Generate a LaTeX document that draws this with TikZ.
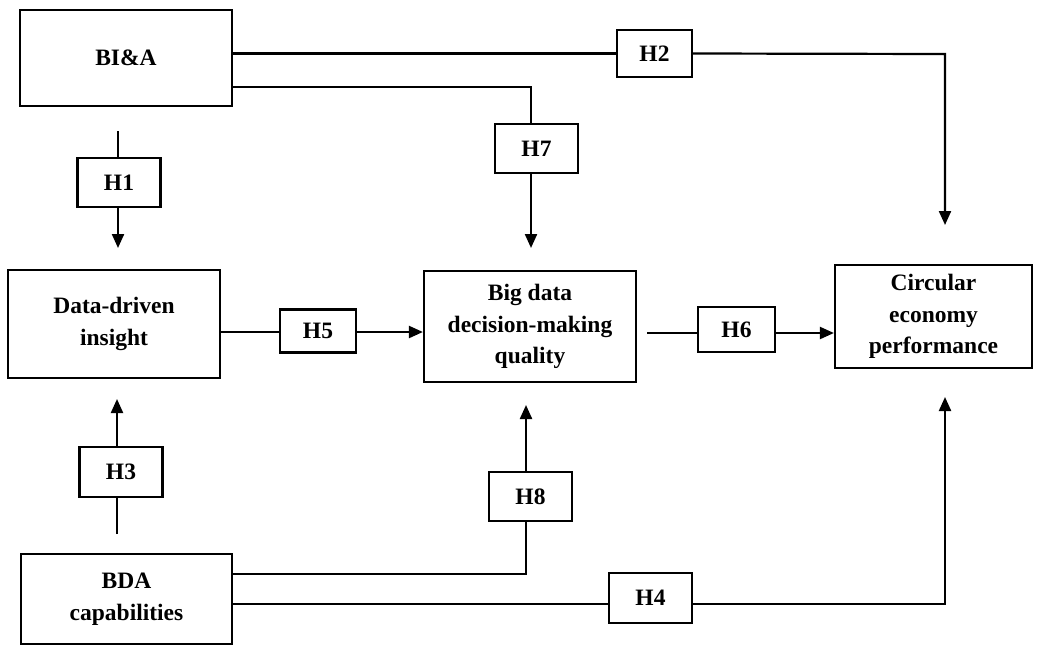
\documentclass[tikz,border=0pt]{standalone}
\usepackage{fontspec}
\setmainfont{Liberation Serif}
\usetikzlibrary{arrows.meta,calc}
\begin{document}
\begin{tikzpicture}[x=1pt,y=-1pt,
  box/.style={draw,line width=2.2pt,rectangle,inner sep=0pt,align=center,
    font=\fontsize{23.5}{31.5}\selectfont\bfseries},
  hbox/.style={draw,line width=2.2pt,rectangle,inner sep=0pt,align=center,
    font=\fontsize{23.5}{26}\selectfont\bfseries},
  conn/.style={line width=2.2pt},
  arr/.style={line width=2.2pt,-{Triangle[length=14pt,width=12pt]}}]
\useasboundingbox (0,0) rectangle (1048,646);
\node[box,minimum width=212pt,minimum height=96pt] (bia) at (126,58) {BI\&A};
\node[box,minimum width=212pt,minimum height=108pt] (ddi) at (114,324) {Data-driven\\insight};
\node[box,minimum width=211pt,minimum height=90pt] (bda) at (126.5,599) {BDA\\capabilities};
\node[box,minimum width=212pt,minimum height=111pt] (bdq) at (530,326.5) {Big data\\decision-making\\quality};
\node[box,minimum width=197pt,minimum height=103pt] (cep) at (933.5,316.5) {Circular\\economy\\performance};
\node[hbox,minimum width=83pt,minimum height=49pt] (h1) at (119,182.5) {H1};
\node[hbox,minimum width=75pt,minimum height=47pt] (h2) at (654.5,53.5) {H2};
\node[hbox,minimum width=83pt,minimum height=50pt] (h3) at (121,472) {H3};
\node[hbox,minimum width=83pt,minimum height=50pt] (h4) at (650.5,598) {H4};
\node[hbox,minimum width=76pt,minimum height=43pt] (h5) at (318,331) {H5};
\node[hbox,minimum width=77pt,minimum height=45pt] (h6) at (736.5,329.5) {H6};
\node[hbox,minimum width=83pt,minimum height=49pt] (h7) at (536.5,148.5) {H7};
\node[hbox,minimum width=83pt,minimum height=49pt] (h8) at (530.5,496.5) {H8};
% free ends
\coordinate (h1s) at (118,131);
\coordinate (h1e) at (118,248);
\coordinate (h2c) at (945,54);
\coordinate (h2e) at (945,225);
\coordinate (h7a) at (232,87);
\coordinate (h7c) at (531,87);
\coordinate (h7e) at (531,248);
\coordinate (h6s) at (647,333);
\coordinate (h3s) at (117,534);
\coordinate (h3e) at (117,399);
\coordinate (h8a) at (232,574);
\coordinate (h8c) at (526,574);
\coordinate (h8e) at (526,405);
\coordinate (h4a) at (232,604);
\coordinate (h4c) at (945,604);
\coordinate (h4e) at (945,397);
% H2
\draw[conn] (h2.west -| bia.east) -- (h2.west);
\draw[arr] (h2.east) -- (h2c) -- (h2e);
% H7
\draw[conn] (h7a) -- (h7c) -- (h7c |- h7.north);
\draw[arr] (h7c |- h7.south) -- (h7e);
% H1
\draw[conn] (h1s) -- (h1s |- h1.north);
\draw[arr] (h1s |- h1.south) -- (h1e);
% H5
\draw[conn] (ddi.east |- 0,332) -- (h5.west |- 0,332);
\draw[arr] (h5.east |- 0,332) -- (bdq.west |- 0,332);
% H6
\draw[conn] (h6s) -- (h6.west |- h6s);
\draw[arr] (h6.east |- h6s) -- (cep.west |- h6s);
% H3
\draw[conn] (h3s) -- (h3s |- h3.south);
\draw[arr] (h3s |- h3.north) -- (h3e);
% H8
\draw[conn] (h8a) -- (h8c) -- (h8c |- h8.south);
\draw[arr] (h8c |- h8.north) -- (h8e);
% H4
\draw[conn] (h4a) -- (h4.west |- h4a);
\draw[arr] (h4.east |- h4a) -- (h4c) -- (h4e);
\end{tikzpicture}
\end{document}
